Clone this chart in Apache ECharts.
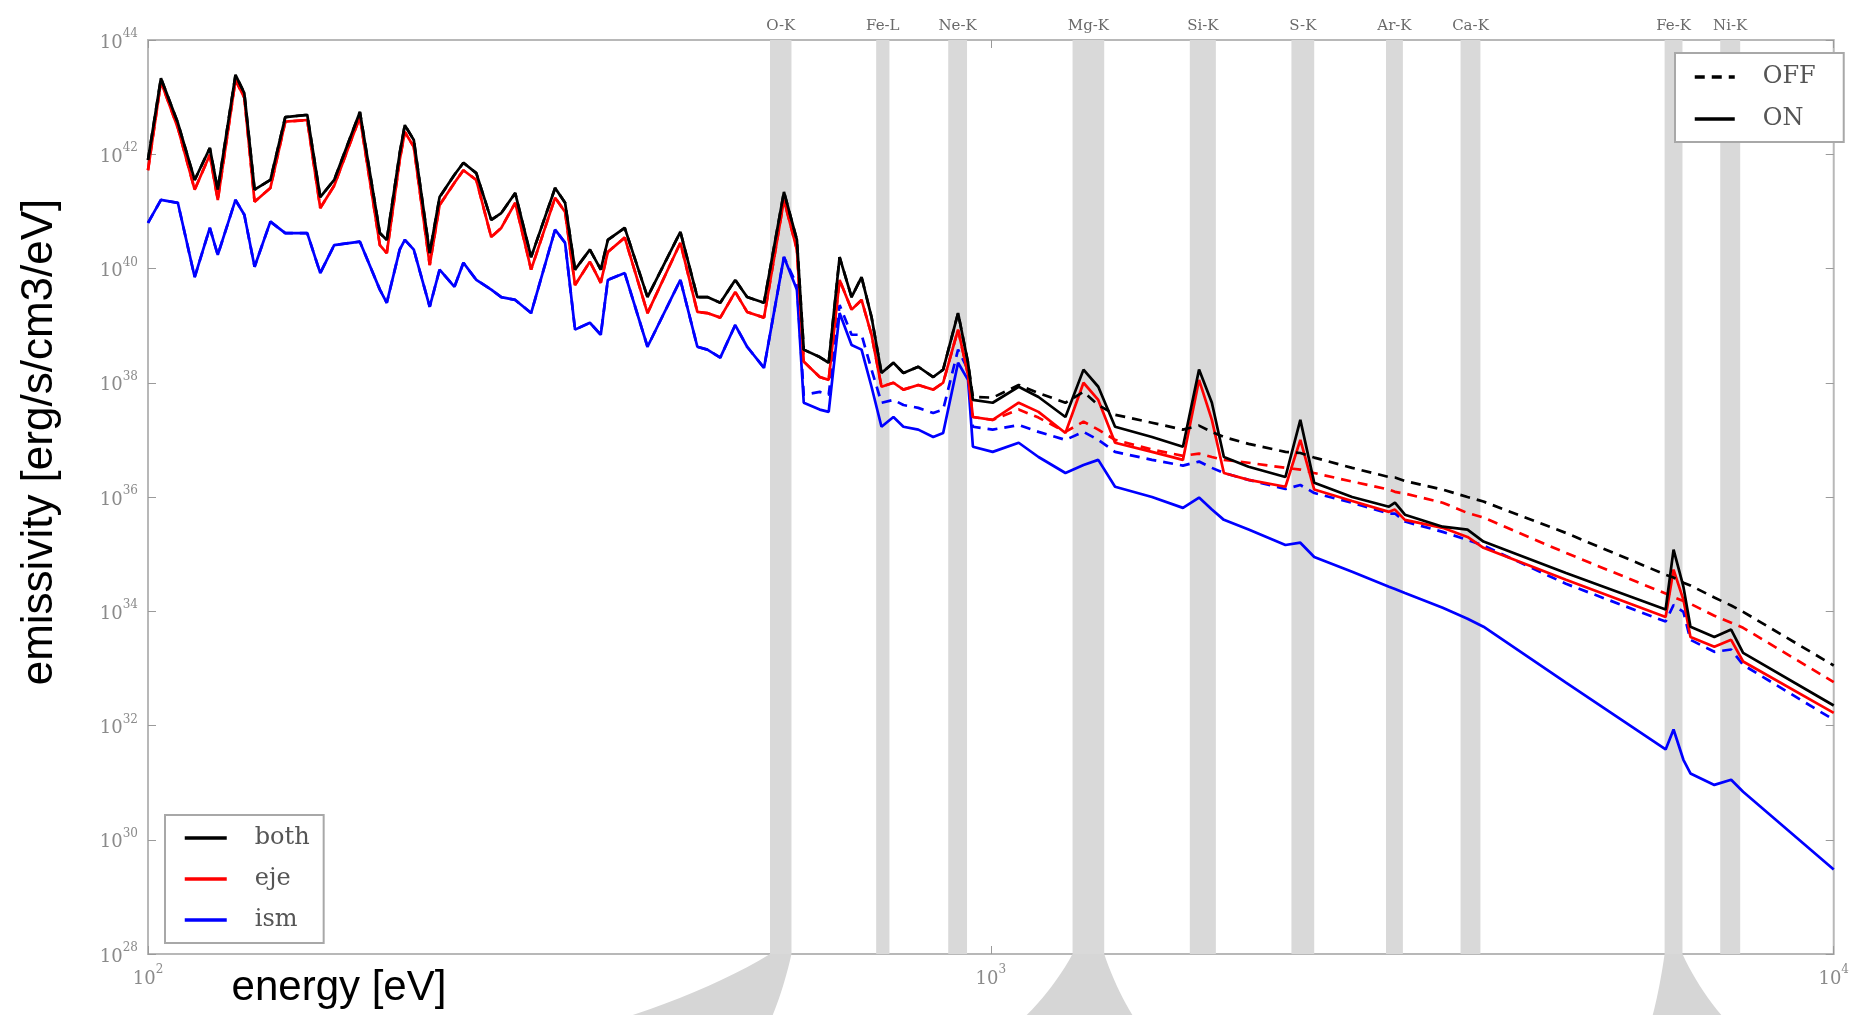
<!DOCTYPE html>
<html>
<head>
<meta charset="utf-8">
<title>emissivity spectrum</title>
<script src="https://cdn.jsdelivr.net/npm/echarts@6/dist/echarts.min.js"></script>
<style>
  html, body { margin: 0; padding: 0; background: #ffffff; }
  #chart { width: 1852px; height: 1015px; }
</style>
</head>
<body>
<div id="chart"></div>
<script>
// Photon energy grid [eV]
const energy = [
  100, 103.6, 108.5, 113.6, 118.4, 121.0, 127.0, 130.1, 133.8, 139.7,
  145.5, 154.5, 160.1, 166.3, 178.4, 188.4, 192.0, 198.9, 201.7, 206.7,
  215.9, 221.8, 231.0, 236.7, 245.2, 255.4, 262.5, 272.7, 284.8, 304.1,
  312.5, 321.1, 334.4, 344.5, 351.2, 367.8, 391.4, 428.2, 448.5, 460.9,
  477.5, 497.4, 513.8, 538.1, 568.2, 588.7, 599.8, 626.5, 642.1, 661.5,
  683.5, 702.4, 721.8, 741.7, 766.3, 787.5, 820.2, 854.3, 877.8, 914.3,
  939.5, 952.1, 1005, 1079, 1139, 1226, 1288, 1341, 1404, 1553,
  1690, 1766, 1829, 1890, 2022, 2236, 2329, 2419, 2683, 2967,
  3016, 3099, 3436, 3677, 3841, 4812, 6318, 6456, 6632, 6761,
  7217, 7556, 7807, 10000
];

// log10 of emissivity [erg/s/cm3/eV], effect switched ON
const bothOn = [
  41.90, 43.33, 42.55, 41.55, 42.11, 41.38, 43.39, 43.07, 41.38, 41.55,
  42.65, 42.69, 41.25, 41.55, 42.74, 40.62, 40.50, 42.02, 42.51, 42.25,
  40.27, 41.25, 41.64, 41.85, 41.67, 40.85, 40.97, 41.32, 40.20, 41.41,
  41.15, 39.98, 40.33, 39.98, 40.50, 40.71, 39.50, 40.64, 39.50, 39.50,
  39.40, 39.80, 39.50, 39.40, 41.34, 40.50, 38.58, 38.45, 38.35, 40.20,
  39.50, 39.85, 39.15, 38.17, 38.35, 38.17, 38.28, 38.10, 38.23, 39.22,
  38.35, 37.70, 37.65, 37.93, 37.75, 37.40, 38.23, 37.93, 37.23, 37.05,
  36.88, 38.23, 37.65, 36.70, 36.53, 36.35, 37.35, 36.25, 36.00, 35.83,
  35.90, 35.69, 35.48, 35.43, 35.22, 34.67, 34.03, 35.08, 34.43, 33.73,
  33.55, 33.68, 33.27, 32.35
];
const ejeOn = [
  41.72, 43.27, 42.46, 41.38, 41.99, 41.20, 43.30, 42.99, 41.17, 41.41,
  42.57, 42.60, 41.06, 41.45, 42.65, 40.41, 40.27, 41.90, 42.39, 42.13,
  40.06, 41.11, 41.50, 41.72, 41.55, 40.55, 40.71, 41.15, 39.98, 41.24,
  40.99, 39.71, 40.12, 39.75, 40.29, 40.54, 39.22, 40.45, 39.24, 39.22,
  39.14, 39.59, 39.24, 39.14, 41.20, 40.33, 38.37, 38.10, 38.05, 39.80,
  39.28, 39.45, 38.84, 37.93, 38.00, 37.88, 37.96, 37.88, 38.00, 38.93,
  38.14, 37.40, 37.35, 37.65, 37.49, 37.12, 38.00, 37.70, 36.95, 36.79,
  36.65, 38.05, 37.35, 36.42, 36.30, 36.18, 37.00, 36.13, 35.93, 35.74,
  35.78, 35.60, 35.46, 35.30, 35.11, 34.55, 33.90, 34.73, 34.20, 33.55,
  33.38, 33.50, 33.12, 32.22
];
const ismOn = [
  40.80, 41.20, 41.15, 39.85, 40.71, 40.24, 41.20, 40.94, 40.03, 40.82,
  40.62, 40.62, 39.92, 40.41, 40.47, 39.63, 39.40, 40.33, 40.50, 40.33,
  39.33, 39.98, 39.68, 40.10, 39.80, 39.63, 39.50, 39.45, 39.22, 40.68,
  40.45, 38.93, 39.05, 38.84, 39.80, 39.92, 38.63, 39.80, 38.63, 38.58,
  38.44, 39.01, 38.63, 38.26, 40.20, 39.63, 37.65, 37.53, 37.49, 39.22,
  38.66, 38.58, 37.93, 37.23, 37.40, 37.23, 37.18, 37.05, 37.12, 38.35,
  38.05, 36.88, 36.79, 36.95, 36.70, 36.42, 36.56, 36.65, 36.18, 36.00,
  35.81, 35.99, 35.78, 35.60, 35.43, 35.16, 35.20, 34.95, 34.69, 34.43,
  34.39, 34.32, 34.06, 33.87, 33.73, 32.75, 31.58, 31.93, 31.40, 31.16,
  30.96, 31.05, 30.84, 29.48
];

// log10 of emissivity, effect switched OFF
const bothOff = [
  41.90, 43.33, 42.55, 41.55, 42.11, 41.38, 43.39, 43.07, 41.38, 41.55,
  42.65, 42.69, 41.25, 41.55, 42.74, 40.62, 40.50, 42.02, 42.51, 42.25,
  40.27, 41.25, 41.64, 41.85, 41.67, 40.85, 40.97, 41.32, 40.20, 41.41,
  41.15, 39.98, 40.33, 39.98, 40.50, 40.71, 39.50, 40.64, 39.50, 39.50,
  39.40, 39.80, 39.50, 39.40, 41.34, 40.50, 38.58, 38.45, 38.35, 40.20,
  39.50, 39.85, 39.15, 38.17, 38.35, 38.17, 38.28, 38.10, 38.23, 39.22,
  38.35, 37.75, 37.74, 37.96, 37.82, 37.65, 37.84, 37.61, 37.44, 37.30,
  37.18, 37.25, 37.14, 37.05, 36.93, 36.79, 36.77, 36.69, 36.51, 36.35,
  36.34, 36.28, 36.13, 36.00, 35.92, 35.37, 34.64, 34.59, 34.50, 34.45,
  34.24, 34.10, 33.99, 33.05
];
const ejeOff = [
  41.72, 43.27, 42.46, 41.38, 41.99, 41.20, 43.30, 42.99, 41.17, 41.41,
  42.57, 42.60, 41.06, 41.45, 42.65, 40.41, 40.27, 41.90, 42.39, 42.13,
  40.06, 41.11, 41.50, 41.72, 41.55, 40.55, 40.71, 41.15, 39.98, 41.24,
  40.99, 39.71, 40.12, 39.75, 40.29, 40.54, 39.22, 40.45, 39.24, 39.22,
  39.14, 39.59, 39.24, 39.14, 41.20, 40.33, 38.37, 38.10, 38.05, 39.80,
  39.28, 39.45, 38.84, 37.93, 38.00, 37.88, 37.96, 37.88, 38.00, 38.93,
  38.14, 37.40, 37.35, 37.53, 37.39, 37.14, 37.32, 37.18, 37.00, 36.83,
  36.72, 36.76, 36.70, 36.65, 36.60, 36.51, 36.48, 36.42, 36.27, 36.13,
  36.09, 36.06, 35.90, 35.72, 35.64, 35.02, 34.31, 34.25, 34.18, 34.13,
  33.92, 33.80, 33.71, 32.76
];
const ismOff = [
  40.80, 41.20, 41.15, 39.85, 40.71, 40.24, 41.20, 40.94, 40.03, 40.82,
  40.62, 40.62, 39.92, 40.41, 40.47, 39.63, 39.40, 40.33, 40.50, 40.33,
  39.33, 39.98, 39.68, 40.10, 39.80, 39.63, 39.50, 39.45, 39.22, 40.68,
  40.45, 38.93, 39.05, 38.84, 39.80, 39.92, 38.63, 39.80, 38.63, 38.58,
  38.44, 39.01, 38.63, 38.26, 40.20, 39.71, 37.79, 37.84, 37.79, 39.36,
  38.84, 38.84, 38.23, 37.65, 37.70, 37.61, 37.56, 37.47, 37.53, 38.58,
  38.23, 37.23, 37.18, 37.26, 37.14, 37.00, 37.14, 37.00, 36.79, 36.65,
  36.55, 36.62, 36.51, 36.42, 36.30, 36.14, 36.21, 36.07, 35.90, 35.71,
  35.71, 35.57, 35.39, 35.25, 35.15, 34.48, 33.82, 34.11, 33.99, 33.50,
  33.29, 33.33, 33.06, 32.10
];

// Emission-line windows [label, low eV, high eV]
const lineBands = [
  ['O-K', 547, 580],
  ['Fe-L', 731, 758],
  ['Ne-K', 890, 937],
  ['Mg-K', 1250, 1363],
  ['Si-K', 1722, 1849],
  ['S-K', 2273, 2419],
  ['Ar-K', 2943, 3082],
  ['Ca-K', 3608, 3809],
  ['Fe-K', 6300, 6615],
  ['Ni-K', 7334, 7745]
];

// Zoom-out wedges under the axis: [top low, top high, foot low, foot high] in eV
const callouts = [
  [547, 580, 376, 551],
  [1250, 1363, 1103, 1472],
  [6300, 6615, 6099, 7355]
];

const COLORS = { both: '#000000', eje: '#ff0000', ism: '#0000ff' };
const SERIF = '"DejaVu Serif", "Liberation Serif", serif';
const SANS = '"Liberation Sans", Arial, sans-serif';
const TICK_GRAY = '#8a8a8a';
const LINE_W = 2.7;

function toPoints(logVals) {
  return energy.map((e, i) => [e, Math.pow(10, logVals[i])]);
}

function powLabel(v) {
  const p = Math.round(Math.log10(v));
  return '{b|10}{s|' + p + '}';
}

const tickRich = {
  b: { fontFamily: SERIF, fontSize: 18, color: TICK_GRAY, lineHeight: 24, verticalAlign: 'bottom' },
  s: { fontFamily: SERIF, fontSize: 12, color: TICK_GRAY, lineHeight: 12, verticalAlign: 'top' }
};

function lineSeries(name, vals, color, dashed, extra) {
  return Object.assign({
    name: name,
    type: 'line',
    data: toPoints(vals),
    symbol: 'none',
    smooth: false,
    clip: true,
    silent: true,
    lineStyle: { color: color, width: LINE_W, type: dashed ? [10, 7] : 'solid' },
    itemStyle: { color: color },
    emphasis: { disabled: true },
    z: 3
  }, extra || {});
}

const legendBase = {
  orient: 'vertical',
  backgroundColor: '#ffffff', borderColor: '#a8a8a8', borderWidth: 2, borderRadius: 0,
  selectedMode: false,
  itemStyle: { opacity: 0 },
  lineStyle: { width: 3.5 },
  textStyle: { fontFamily: SERIF, fontSize: 24, color: '#555555', padding: [0, 0, 0, 23] }
};

const chart = echarts.init(document.getElementById('chart'), null, { renderer: 'canvas' });

const option = {
  animation: false,
  backgroundColor: '#ffffff',
  grid: {
    left: 148, top: 40, width: 1697, height: 914,
    show: true, borderColor: '#b8b8b8', borderWidth: 2, backgroundColor: 'transparent'
  },
  xAxis: [
    {
      type: 'log', logBase: 10, min: 100, max: 10000, interval: 1, splitNumber: 2,
      axisLine: { show: false },
      axisTick: { show: true, inside: true, length: 8, lineStyle: { color: '#9a9a9a', width: 1 } },
      axisLabel: { show: true, margin: 10, formatter: powLabel, rich: tickRich },
      splitLine: { show: false }
    },
    {
      type: 'log', logBase: 10, min: 100, max: 10000, interval: 1, splitNumber: 2, position: 'top',
      axisLine: { show: false },
      axisTick: { show: true, inside: true, length: 8, lineStyle: { color: '#9a9a9a', width: 1 } },
      axisLabel: { show: false },
      splitLine: { show: false }
    }
  ],
  yAxis: [
    {
      type: 'log', logBase: 10, min: 1e28, max: 1e44, interval: 2, splitNumber: 8,
      axisLine: { show: false },
      axisTick: { show: true, inside: true, length: 8, lineStyle: { color: '#9a9a9a', width: 1 } },
      axisLabel: { show: true, margin: 10, formatter: powLabel, rich: tickRich },
      splitLine: { show: false }
    },
    {
      type: 'log', logBase: 10, min: 1e28, max: 1e44, interval: 2, splitNumber: 8, position: 'right',
      axisLine: { show: false },
      axisTick: { show: true, inside: true, length: 8, lineStyle: { color: '#9a9a9a', width: 1 } },
      axisLabel: { show: false },
      splitLine: { show: false }
    }
  ],
  legend: [
    Object.assign({}, legendBase, {
      left: 165, top: 815,
      data: ['both', 'eje', 'ism'],
      itemWidth: 42, itemHeight: 28, itemGap: 17,
      padding: [11, 14, 11, 18]
    }),
    Object.assign({}, legendBase, {
      left: 1675, top: 53,
      data: ['OFF', 'ON'],
      itemWidth: 40, itemHeight: 28, itemGap: 18,
      padding: [12, 28, 11, 18]
    })
  ],
  series: [
    lineSeries('ism', ismOn, COLORS.ism, false, {
      markArea: {
        silent: true,
        z: 1,
        itemStyle: { color: '#d9d9d9' },
        emphasis: { disabled: true },
        label: { show: true, position: 'top', distance: 6, color: '#6a6a6a', fontFamily: SERIF, fontSize: 15 },
        data: lineBands.map(b => [{ name: b[0], xAxis: b[1] }, { xAxis: b[2] }])
      }
    }),
    lineSeries('ism (OFF)', ismOff, COLORS.ism, true),
    lineSeries('eje', ejeOn, COLORS.eje, false),
    lineSeries('eje (OFF)', ejeOff, COLORS.eje, true),
    lineSeries('both (OFF)', bothOff, COLORS.both, true),
    lineSeries('both', bothOn, COLORS.both, false),
    // key entries for the line style
    { name: 'OFF', type: 'line', data: [], symbol: 'none', lineStyle: { color: '#000', width: LINE_W, type: [10, 7] }, itemStyle: { color: '#000' } },
    { name: 'ON', type: 'line', data: [], symbol: 'none', lineStyle: { color: '#000', width: LINE_W }, itemStyle: { color: '#000' } }
  ],
  graphic: [
    {
      id: 'ytitle', type: 'text', x: 40, y: 442, rotation: Math.PI / 2, z: 10,
      style: { text: 'emissivity [erg/s/cm3/eV]', fontFamily: SANS, fontSize: 44, fill: '#000',
               textAlign: 'center', textVerticalAlign: 'middle' }
    },
    {
      id: 'xtitle', type: 'text', x: 339, y: 988, z: 10,
      style: { text: 'energy [eV]', fontFamily: SANS, fontSize: 42, fill: '#000',
               textAlign: 'center', textVerticalAlign: 'middle' }
    }
  ]
};

chart.setOption(option);

// Wedges that fan out from three line windows below the frame
function calloutShapes() {
  const yTop = chart.convertToPixel({ yAxisIndex: 0 }, 1e28);
  const yBot = chart.getHeight();
  const px = e => chart.convertToPixel({ xAxisIndex: 0 }, e);
  const edge = (xt, xb) => {
    const pts = [];
    const cx = xt + 0.4 * (xb - xt), cy = yTop + 0.55 * (yBot - yTop);
    for (let k = 0; k <= 10; k++) {
      const t = k / 10;
      pts.push([
        (1 - t) * (1 - t) * xt + 2 * (1 - t) * t * cx + t * t * xb,
        (1 - t) * (1 - t) * yTop + 2 * (1 - t) * t * cy + t * t * yBot
      ]);
    }
    return pts;
  };
  return callouts.map((c, i) => {
    const left = edge(px(c[0]), px(c[2]));
    const right = edge(px(c[1]), px(c[3])).reverse();
    return {
      id: 'callout' + i, type: 'polygon', z: 0, silent: true,
      shape: { points: left.concat(right) },
      style: { fill: '#d6d6d6', stroke: null }
    };
  });
}

chart.setOption({ graphic: calloutShapes() });
</script>
</body>
</html>
